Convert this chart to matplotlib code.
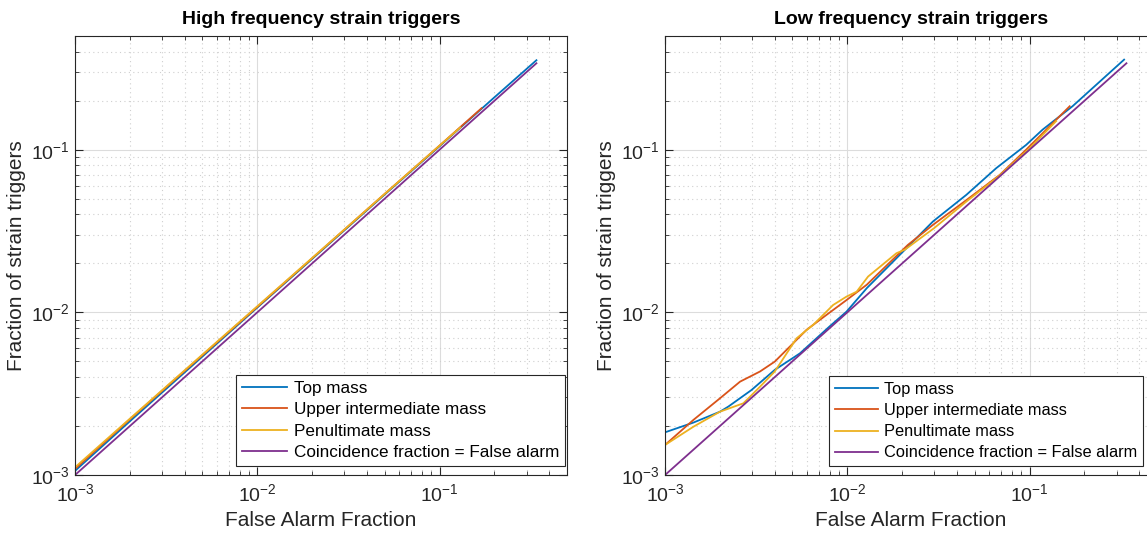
import numpy as np
import matplotlib
matplotlib.use("Agg")
from matplotlib import pyplot as plt

plt.rcParams['font.family'] = ['Liberation Sans', 'DejaVu Sans']

# colours used by the original (matlab default order)
colors = ['#0072BD', '#D95319', '#EDB120', '#7E2F8E']
labels = ['Top mass', 'Upper intermediate mass', 'Penultimate mass',
          'Coincidence fraction = False alarm']

# high frequency panel
hf_top_x = [1e-3, 2e-3, 5e-3, 1e-2, 2e-2, 5e-2, 0.1, 0.2, 0.34]
hf_top_y = [1.06e-3, 2.14e-3, 5.35e-3, 1.07e-2, 2.13e-2, 5.3e-2, 0.105, 0.21, 0.355]
hf_uim_x = [1e-3, 2e-3, 5e-3, 1e-2, 2e-2, 5e-2, 0.1, 0.17]
hf_uim_y = [1.09e-3, 2.2e-3, 5.45e-3, 1.08e-2, 2.15e-2, 5.35e-2, 0.106, 0.18]
hf_pum_x = [1e-3, 2e-3, 5e-3, 1e-2, 2e-2, 5e-2, 0.1, 0.13]
hf_pum_y = [1.115e-3, 2.22e-3, 5.5e-3, 1.09e-2, 2.16e-2, 5.35e-2, 0.106, 0.137]

# low frequency panel
lf_top_x = [1e-3, 1.43e-3, 2e-3, 2.22e-3, 2.98e-3, 4.0e-3, 5.5e-3, 8e-3, 9.9e-3,
            0.0128, 0.022, 0.0295, 0.045, 0.0656, 0.0957, 0.118, 0.172, 0.33]
lf_top_y = [1.83e-3, 2.1e-3, 2.45e-3, 2.63e-3, 3.33e-3, 4.43e-3, 5.6e-3, 8.2e-3, 1.01e-2,
            0.0141, 0.026, 0.0362, 0.0528, 0.077, 0.107, 0.133, 0.185, 0.358]
lf_uim_x = [1e-3, 1.43e-3, 2e-3, 2.58e-3, 3.32e-3, 4.0e-3, 5.05e-3, 5.97e-3, 7.7e-3,
            9.9e-3, 0.0128, 0.0215, 0.0295, 0.045, 0.0686, 0.0957, 0.166]
lf_uim_y = [1.53e-3, 2.18e-3, 2.96e-3, 3.75e-3, 4.33e-3, 4.98e-3, 6.46e-3, 7.8e-3, 9.66e-3,
            0.0119, 0.0148, 0.026, 0.0345, 0.049, 0.070, 0.1, 0.185]
lf_pum_x = [1e-3, 1.43e-3, 2e-3, 2.69e-3, 3.32e-3, 4.0e-3, 5.27e-3, 6.5e-3, 8.36e-3, 9.9e-3,
            0.01125, 0.013, 0.0186, 0.0207, 0.03, 0.045, 0.068, 0.1, 0.14]
lf_pum_y = [1.53e-3, 1.98e-3, 2.45e-3, 2.76e-3, 3.49e-3, 4.33e-3, 6.93e-3, 8.38e-3, 0.0111, 0.0125,
            0.0134, 0.0166, 0.0231, 0.0243, 0.033, 0.048, 0.069, 0.102, 0.15]

diag = [1e-3, 0.34]

fig = plt.figure(figsize=(11.47, 5.33), dpi=100)
ax1 = fig.add_axes([0.0654, 0.1088, 0.4289, 0.8236])
ax2 = fig.add_axes([0.5798, 0.1088, 0.4289, 0.8236])

panels = [
    (ax1, 'High frequency strain triggers',
     [(hf_top_x, hf_top_y), (hf_uim_x, hf_uim_y), (hf_pum_x, hf_pum_y)], (0.996, 0.02), 12.3),
    (ax2, 'Low frequency strain triggers',
     [(lf_top_x, lf_top_y), (lf_uim_x, lf_uim_y), (lf_pum_x, lf_pum_y)], (0.972, 0.02), 11.8),
]

axcol = '#262626'
for ax, title, series, anchor, lfs in panels:
    for (x, y), c, lab in zip(series, colors, labels):
        ax.loglog(x, y, color=c, lw=1.3, label=lab)
    ax.loglog(diag, diag, color=colors[3], lw=1.3, label=labels[3])
    ax.set_xlim(1e-3, 0.5)
    ax.set_ylim(1e-3, 0.5)
    ax.grid(True, which='major', color='#dcdcdc', lw=0.8, ls='-')
    ax.grid(True, which='minor', color='#cfcfcf', lw=0.8, ls=(0, (1, 3)))
    ax.tick_params(which='both', direction='in', top=True, right=True,
                   colors=axcol, labelsize=14)
    ax.tick_params(which='major', length=6)
    ax.tick_params(which='minor', length=3)
    ax.tick_params(axis='x', which='major', pad=6)
    for s in ax.spines.values():
        s.set_color(axcol)
        s.set_linewidth(0.8)
    ax.set_title(title, fontsize=14, fontweight='bold', color='black', pad=9)
    ax.set_xlabel('False Alarm Fraction', fontsize=15, color=axcol)
    ax.set_ylabel('Fraction of strain triggers', fontsize=15, color=axcol)
    leg = ax.legend(loc='lower right', bbox_to_anchor=anchor, fontsize=lfs,
                    fancybox=False, framealpha=1, edgecolor=axcol,
                    handlelength=2.6, borderpad=0.35, labelspacing=0.38,
                    handletextpad=0.4, borderaxespad=0)
    leg.get_frame().set_linewidth(0.8)

fig.savefig('out.png', dpi=100)
